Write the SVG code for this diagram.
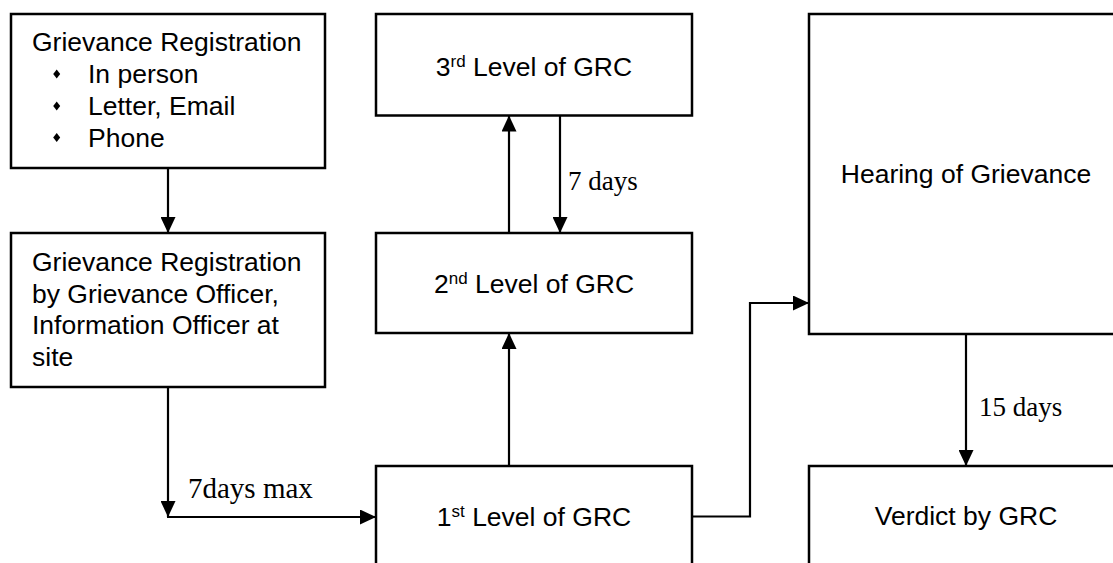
<svg xmlns="http://www.w3.org/2000/svg" width="1113" height="563" viewBox="0 0 1113 563">
<style>
.box{fill:#fff;stroke:#000;stroke-width:2.5}
.t{font-family:"Liberation Sans",Arial,sans-serif;font-size:26.5px;fill:#000}
.c{text-anchor:middle}
.lbl{font-family:"Liberation Serif","Times New Roman",serif;font-size:27px;fill:#000}
.big{font-size:29px}
.ln{fill:none;stroke:#000;stroke-width:2.2}
</style>
<defs>
<marker id="ah" viewBox="0 0 16 15" refX="16" refY="7.5" markerWidth="16" markerHeight="15" markerUnits="userSpaceOnUse" orient="auto">
<path d="M0,0 L16,7.5 L0,15 Z" fill="#000"/>
</marker>
</defs>
<rect width="1113" height="563" fill="#fff"/>
<g id="connectors">
<line class="ln" x1="168" y1="168" x2="168" y2="233" marker-end="url(#ah)"/>
<line class="ln" x1="168" y1="387" x2="168" y2="517" marker-end="url(#ah)"/>
<line class="ln" x1="167" y1="517" x2="376" y2="517" marker-end="url(#ah)"/>
<line class="ln" x1="509" y1="466" x2="509" y2="333" marker-end="url(#ah)"/>
<line class="ln" x1="509" y1="233" x2="509" y2="115.5" marker-end="url(#ah)"/>
<line class="ln" x1="560" y1="115.5" x2="560" y2="233" marker-end="url(#ah)"/>
<polyline class="ln" points="692,516.5 750,516.5 750,303 809,303" marker-end="url(#ah)"/>
<line class="ln" x1="966" y1="334" x2="966" y2="466" marker-end="url(#ah)"/>
<text class="lbl big" x="188" y="498">7days max</text>
<text class="lbl" x="568" y="190">7 days</text>
<text class="lbl" x="979" y="416">15 days</text>
</g>
<g id="node-registration">
<rect class="box" x="11" y="14" width="314" height="154"/>
<text class="t" x="32" y="50.5">Grievance Registration</text>
<polygon points="56.7,69.5 60.2,74 56.7,78.5 53.2,74" fill="#000"/>
<polygon points="56.7,101.5 60.2,106 56.7,110.5 53.2,106" fill="#000"/>
<polygon points="56.7,133 60.2,137.5 56.7,142 53.2,137.5" fill="#000"/>
<text class="t" x="88" y="82.5">In person</text>
<text class="t" x="88" y="114.5">Letter, Email</text>
<text class="t" x="88" y="146.5">Phone</text>
</g>
<g id="node-officer">
<rect class="box" x="11" y="233" width="314" height="154"/>
<text class="t" x="32" y="271">Grievance Registration</text>
<text class="t" x="32" y="302.5">by Grievance Officer,</text>
<text class="t" x="32" y="334">Information Officer at</text>
<text class="t" x="32" y="366">site</text>
</g>
<g id="node-level3">
<rect class="box" x="376" y="14" width="316" height="101.5"/>
<text class="t c" x="534" y="76">3<tspan font-size="17" dy="-9">rd</tspan><tspan dy="9"> Level of GRC</tspan></text>
</g>
<g id="node-level2">
<rect class="box" x="376" y="233" width="316" height="100"/>
<text class="t c" x="534" y="292.5">2<tspan font-size="17" dy="-9">nd</tspan><tspan dy="9"> Level of GRC</tspan></text>
</g>
<g id="node-level1">
<rect class="box" x="376" y="466" width="316" height="120"/>
<text class="t c" x="534" y="526">1<tspan font-size="17" dy="-9">st</tspan><tspan dy="9"> Level of GRC</tspan></text>
</g>
<g id="node-hearing">
<rect class="box" x="809" y="14" width="315" height="320"/>
<text class="t c" x="966" y="183">Hearing of Grievance</text>
</g>
<g id="node-verdict">
<rect class="box" x="809" y="466" width="315" height="120"/>
<text class="t c" x="966" y="525">Verdict by GRC</text>
</g>
</svg>
